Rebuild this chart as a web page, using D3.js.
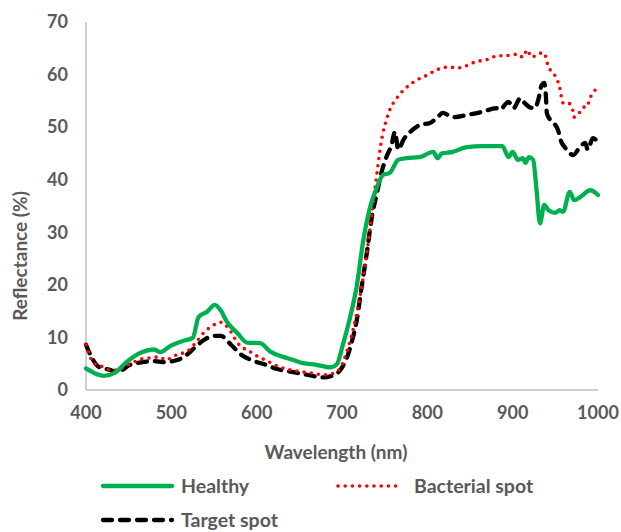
<!DOCTYPE html>
<html>
<head>
<meta charset="utf-8">
<script src="https://cdn.jsdelivr.net/npm/d3@7"></script>
<style>
  html, body { margin: 0; padding: 0; background: #fff; }
  svg text { font-family: Lato, "Open Sans", sans-serif; font-weight: 700; fill: #595959; }
</style>
</head>
<body>
<svg id="chart" width="621" height="532"></svg>
<script>
// Reflectance spectra (%) for leaves: wavelength (nm) and reflectance arrays per series
const healthyWl = [400,410,421,433,448,464,480,487,499,515,525,532,542,551,558,565,577,589,604,616,631,643,654,670,686,694,701,709,717,725,733,741,748,756,766,776,791,807,812,817,830,846,865,888,895,900,906,912,915,919,924,928,932,937,942,950,955,959,967,972,979,991,1000];
const healthyVal = [4.1,3.2,2.7,3.2,5.4,7.1,7.7,7.2,8.4,9.4,9.9,13.9,14.9,16.2,15.1,13.0,10.9,9.0,8.9,7.3,6.3,5.7,5.1,4.8,4.3,4.9,8.6,13.5,19.5,28.5,34.8,38.6,40.9,41.3,43.8,44.1,44.3,45.3,44.1,45.0,45.3,46.2,46.4,46.4,44.3,45.3,43.8,44.1,43.2,44.3,43.8,38.0,31.7,35.2,34.2,33.7,34.2,33.9,37.7,36.1,36.7,38.0,37.1];

const bacterialWl = [400,409,420,429,436,447,456,465,476,486,494,503,513,522,529,538,548,558,570,577,593,600,610,627,647,665,678,690,698,706,713,721,729,733,737,741,745,748,752,756,764,776,788,800,811,824,838,856,873,880,899,906,912,917,922,928,934,937,940,944,952,955,959,965,970,972,978,983,987,990,995,1000];
const bacterialVal = [8.6,5.1,4.4,3.8,3.8,4.6,5.3,5.9,6.1,6.3,5.7,6.5,7.0,7.8,9.1,10.9,12.2,12.9,11.0,9.1,7.2,6.5,5.7,4.4,3.6,3.2,2.9,3.2,4.2,7.5,11.5,17.7,26.0,31.0,36.1,41.3,46.2,48.9,51.4,53.3,55.5,57.6,59.0,59.9,60.9,61.4,61.3,62.4,63.0,63.5,63.7,63.9,63.3,64.7,63.3,63.7,64.1,64.1,62.4,60.9,59.1,57.6,54.6,54.6,53.5,51.9,52.7,53.8,53.8,55.3,56.7,57.6];

const targetWl = [400,407,415,429,436,452,466,480,491,507,518,527,538,550,558,570,582,597,609,624,643,659,678,688,698,706,712,717,723,729,735,741,747,752,758,762,766,772,780,791,803,811,818,830,846,864,881,885,895,901,909,914,920,926,930,934,937,939,940,944,948,953,957,961,971,978,985,988,994,1000];
const targetVal = [8.6,6.1,4.4,3.8,3.4,4.8,5.3,5.5,5.3,5.7,6.7,8.0,9.5,10.3,10.3,8.6,6.7,5.5,4.9,4.0,3.4,2.9,2.4,2.7,3.8,6.3,9.5,13.0,19.6,26.0,32.9,37.5,41.8,44.3,46.6,49.1,45.7,47.6,49.1,50.4,50.8,51.7,52.7,51.9,52.3,52.9,53.6,53.3,54.8,53.6,55.5,54.6,53.8,53.6,55.2,58.0,58.4,55.7,52.7,51.4,50.8,49.5,47.2,46.2,44.7,46.0,47.0,45.7,47.9,47.2];

const xTicks = [400,500,600,700,800,900,1000];
const yTicks = [0,10,20,30,40,50,60,70];
const seriesNames = ["Healthy","Bacterial spot","Target spot"];

const svg = d3.select("#chart");
const x = d3.scaleLinear().domain([400,1000]).range([86,598]);
const y = d3.scaleLinear().domain([0,70]).range([390,22]);

// axis lines
svg.append("line").attr("x1",86).attr("x2",86).attr("y1",y(70)).attr("y2",y(0))
  .attr("stroke","#BFBFBF").attr("stroke-width",1.5);
svg.append("line").attr("x1",x(400)).attr("x2",x(1000)).attr("y1",390).attr("y2",390)
  .attr("stroke","#BFBFBF").attr("stroke-width",1.5);

// tick labels
svg.selectAll(".ylab").data(yTicks).enter().append("text")
  .attr("x",68).attr("y",d=>y(d)).attr("dy","0.35em").attr("text-anchor","end")
  .attr("font-size",18).text(d=>d);
svg.selectAll(".xlab").data(xTicks).enter().append("text")
  .attr("x",d=>x(d)).attr("y",413).attr("dy","0.35em").attr("text-anchor","middle")
  .attr("font-size",18).text(d=>d);

// axis titles
svg.append("text").attr("x",336).attr("y",452).attr("dy","0.35em")
  .attr("text-anchor","middle").attr("font-size",19).text("Wavelength (nm)");
svg.append("text").attr("transform","translate(20,256) rotate(-90)").attr("dy","0.35em")
  .attr("text-anchor","middle").attr("font-size",19).text("Reflectance (%)");

const line = d3.line().x(d=>x(d[0])).y(d=>y(d[1])).curve(d3.curveMonotoneX);
const styles = [
  {color:"#00B050", width:4.3, dash:null, cap:"round"},
  {color:"#FF0000", width:3.6, dash:"0 7.2", cap:"round"},
  {color:"#000000", width:4.3, dash:"9 8", cap:"round"}
];
const data = [
  d3.zip(healthyWl, healthyVal),
  d3.zip(bacterialWl, bacterialVal),
  d3.zip(targetWl, targetVal)
];

// draw target first, then bacterial, then healthy on top
[2,1,0].forEach(i => {
  svg.append("path").datum(data[i]).attr("d",line)
    .attr("fill","none").attr("stroke",styles[i].color)
    .attr("stroke-width",styles[i].width)
    .attr("stroke-linecap",styles[i].cap).attr("stroke-linejoin","round")
    .attr("stroke-dasharray",styles[i].dash);
});

// legend
const legendPos = [{lx:103, ty:486, tx:181, w:69}, {lx:338, ty:486, tx:414, w:63}, {lx:103, ty:520, tx:181, w:69}];
legendPos.forEach((p,i) => {
  const s = styles[i];
  svg.append("line").attr("x1",p.lx).attr("x2",p.lx+p.w).attr("y1",p.ty).attr("y2",p.ty)
    .attr("stroke",s.color).attr("stroke-width",s.width)
    .attr("stroke-linecap",s.cap).attr("stroke-dasharray",s.dash);
  svg.append("text").attr("x",p.tx).attr("y",p.ty).attr("dy","0.35em")
    .attr("font-size",19.5).text(seriesNames[i]);
});
</script>
</body>
</html>
